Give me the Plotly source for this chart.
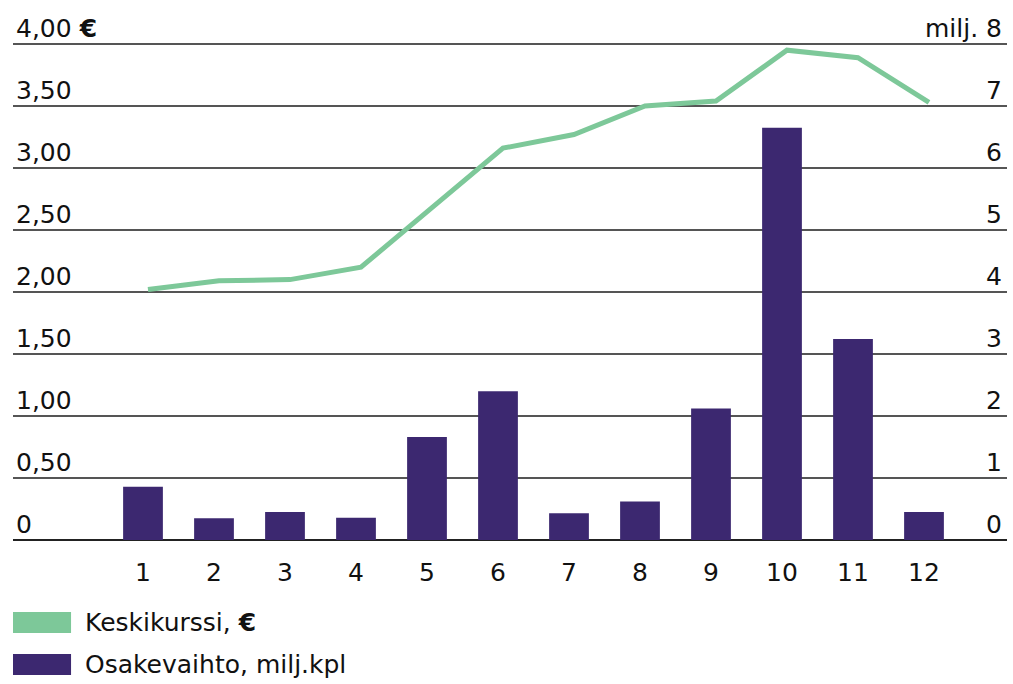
import plotly.graph_objects as go

# ---- data ----
months = [1, 2, 3, 4, 5, 6, 7, 8, 9, 10, 11, 12]
month_labels = [str(m) for m in months]
avg_price = [2.02, 2.09, 2.10, 2.20, 2.68, 3.16, 3.27, 3.50, 3.54, 3.95, 3.89, 3.53]
volume = [0.86, 0.35, 0.45, 0.36, 1.66, 2.40, 0.43, 0.62, 2.12, 6.65, 3.24, 0.45]
price_ticks = [0, 0.5, 1.0, 1.5, 2.0, 2.5, 3.0, 3.5, 4.0]
price_ticktext = ["0", "0,50", "1,00", "1,50", "2,00", "2,50", "3,00", "3,50", "4,00 <b>€</b>"]
vol_ticks = [0, 1, 2, 3, 4, 5, 6, 7, 8]
vol_ticktext = ["0", "1", "2", "3", "4", "5", "6", "7", "milj. 8"]
legend_labels = ["Keskikurssi, <b>€</b>", "Osakevaihto, milj.kpl"]

GREEN = "#7dc899"
PURPLE = "#3c2870"
TEXT = "#111111"
FONT = "DejaVu Sans"
tickfont = dict(family=FONT, size=25, color=TEXT)

fig = go.Figure()
# bars on the main subplot (x / y, y = volume axis on the right)
fig.add_trace(go.Bar(
    x=months, y=volume, xaxis="x", yaxis="y",
    marker=dict(color=PURPLE, line=dict(width=0)), width=0.56,
    name=legend_labels[1], showlegend=False, hoverinfo="skip",
))
# line on the overlaid subplot (x2 / y2, y2 = price axis on the left)
fig.add_trace(go.Scatter(
    x=months, y=avg_price, xaxis="x2", yaxis="y2",
    mode="lines", line=dict(color=GREEN, width=5),
    name=legend_labels[0], showlegend=False, hoverinfo="skip",
))

# custom legend (patches + labels) below the plot
legend_colors = [GREEN, PURPLE]
patch_y = [(-0.1348, -0.1742), (-0.2135, -0.2528)]
shapes = []
annotations = []
for lab, col, (y1, y0) in zip(legend_labels, legend_colors, patch_y):
    shapes.append(dict(type="rect", xref="paper", yref="paper",
                       x0=0.0, x1=0.0584, y0=y0, y1=y1,
                       fillcolor=col, line=dict(width=0), layer="above"))
    annotations.append(dict(xref="paper", yref="paper", x=0.0704, y=(y0 + y1) / 2,
                            xanchor="left", yanchor="middle", showarrow=False,
                            text=lab, font=dict(family=FONT, size=25, color=TEXT)))

fig.update_layout(
    width=1013, height=684,
    margin=dict(l=13, r=6, t=6, b=144, pad=0),
    paper_bgcolor="white", plot_bgcolor="white",
    font=dict(family=FONT, size=25, color=TEXT),
    xaxis=dict(
        range=[-0.831, 13.169], tickvals=months, ticktext=month_labels,
        showgrid=False, zeroline=False, showline=False, ticks="",
        ticklabelstandoff=15, tickfont=tickfont, fixedrange=True,
    ),
    xaxis2=dict(
        range=[-0.901, 13.099], overlaying="x", anchor="y2",
        visible=False, fixedrange=True,
    ),
    yaxis=dict(
        range=[0, 8.613], tickvals=vol_ticks, ticktext=vol_ticktext,
        side="right", anchor="x",
        showgrid=True, gridcolor="#555555", gridwidth=1.6,
        zeroline=True, zerolinecolor="#222222", zerolinewidth=2.2,
        showline=False, ticks="",
        ticklabelposition="inside", ticklabelshift=-16, ticklabelstandoff=2,
        tickfont=tickfont, fixedrange=True,
    ),
    yaxis2=dict(
        range=[0, 4.3065], tickvals=price_ticks, ticktext=price_ticktext,
        overlaying="y", side="left", anchor="x2",
        showgrid=False, zeroline=False, showline=False, ticks="",
        ticklabelposition="inside", ticklabelshift=-16, ticklabelstandoff=0,
        tickfont=tickfont, fixedrange=True,
    ),
    shapes=shapes,
    annotations=annotations,
)

fig.write_html("out.html", config={"displayModeBar": False},
               post_script="document.body.style.margin='0';document.body.style.overflow='hidden';")
